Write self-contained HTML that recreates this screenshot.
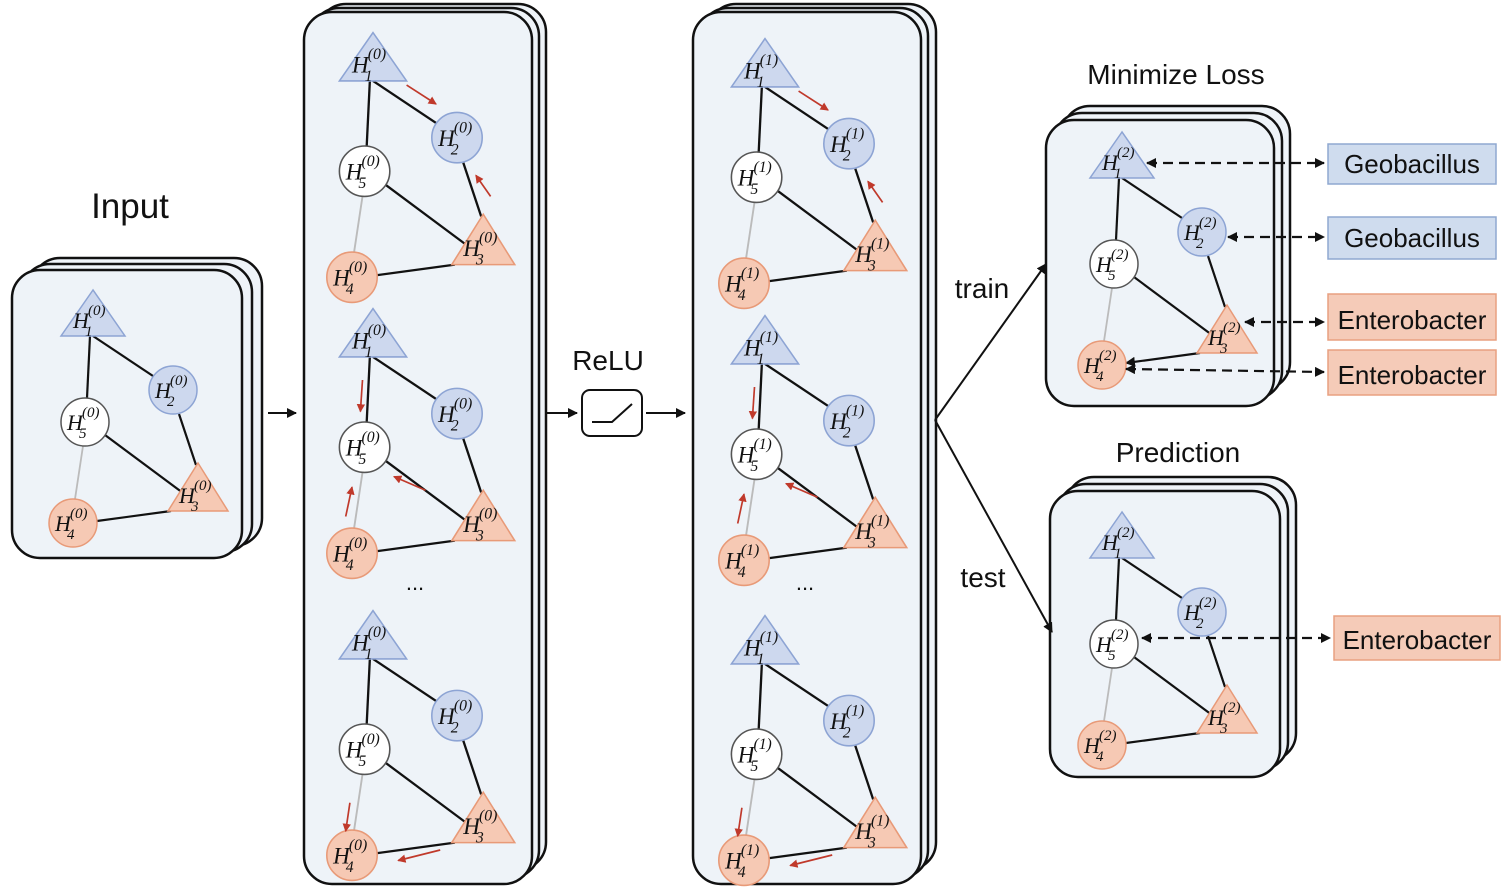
<!DOCTYPE html>
<html><head><meta charset="utf-8"><style>
body{margin:0;background:#fff}
svg{display:block}
.p{fill:#eef3f8;stroke:#111;stroke-width:2.5}
.e{stroke:#111;stroke-width:2.2}
.g{stroke:#bbb;stroke-width:1.8}
.tb{fill:#cdd8ee;stroke:#8da4d4;stroke-width:1.5}
.cb{fill:#cdd8ee;stroke:#8da4d4;stroke-width:1.5}
.cw{fill:#fff;stroke:#555;stroke-width:1.5}
.tr{fill:#f6c9b4;stroke:#e89a78;stroke-width:1.5}
.cr{fill:#f6c9b4;stroke:#e89a78;stroke-width:1.5}
.h{font:italic 22px "Liberation Serif",serif;fill:#111}
.s{font:italic 15px "Liberation Serif",serif;fill:#111}
.t{font-family:"Liberation Sans",sans-serif;fill:#111}
.ra{stroke:#c0392b;stroke-width:1.6;marker-end:url(#rh)}
.ar{stroke:#111;stroke-width:2;marker-end:url(#bh)}
.da{stroke:#111;stroke-width:2.2;stroke-dasharray:10,6;marker-end:url(#bh);marker-start:url(#bs)}
</style></head><body>
<svg width="1512" height="896" viewBox="0 0 1512 896" xmlns="http://www.w3.org/2000/svg">
<defs>
<marker id="rh" markerWidth="8" markerHeight="8" refX="7" refY="4" orient="auto" markerUnits="userSpaceOnUse"><path d="M0,0 L8,4 L0,8z" fill="#c0392b"/></marker>
<marker id="bh" markerWidth="10" markerHeight="10" refX="9" refY="5" orient="auto" markerUnits="userSpaceOnUse"><path d="M0,0 L10,5 L0,10z" fill="#111"/></marker>
<marker id="bs" markerWidth="10" markerHeight="10" refX="1" refY="5" orient="auto" markerUnits="userSpaceOnUse"><path d="M10,0 L0,5 L10,10z" fill="#111"/></marker>
</defs>

<rect class="p" x="32" y="258" width="230" height="288" rx="28"/>
<rect class="p" x="22" y="264" width="230" height="288" rx="28"/>
<rect class="p" x="12" y="270" width="230" height="288" rx="28"/>
<text class="t" x="130" y="218" font-size="35" text-anchor="middle">Input</text>

<rect class="p" x="318" y="4" width="228" height="866" rx="28"/>
<rect class="p" x="311" y="8" width="228" height="870" rx="28"/>
<rect class="p" x="304" y="12" width="228" height="872" rx="28"/>
<rect class="p" x="708" y="4" width="228" height="866" rx="28"/>
<rect class="p" x="700" y="8" width="228" height="870" rx="28"/>
<rect class="p" x="693" y="12" width="228" height="872" rx="28"/>
<rect class="p" x="1062" y="106" width="228" height="284" rx="28"/>
<rect class="p" x="1054" y="113" width="228" height="286" rx="28"/>
<rect class="p" x="1046" y="120" width="228" height="286" rx="28"/>
<rect class="p" x="1066" y="477" width="230" height="284" rx="28"/>
<rect class="p" x="1058" y="484" width="230" height="286" rx="28"/>
<rect class="p" x="1050" y="491" width="230" height="286" rx="28"/>

<text class="t" x="608" y="370" font-size="28" text-anchor="middle">ReLU</text>
<rect x="582" y="390" width="60" height="46" rx="8" fill="#fff" stroke="#111" stroke-width="2"/>
<path d="M592,422 L612,422 L632,404" fill="none" stroke="#111" stroke-width="2"/>
<text class="t" x="1176" y="84" font-size="28" text-anchor="middle">Minimize Loss</text>
<text class="t" x="1178" y="462" font-size="28" text-anchor="middle">Prediction</text>
<text class="t" x="982" y="298" font-size="28" text-anchor="middle">train</text>
<text class="t" x="983" y="587" font-size="28" text-anchor="middle">test</text>
<text class="t" x="415" y="590" font-size="22" text-anchor="middle">...</text>
<text class="t" x="805" y="590" font-size="22" text-anchor="middle">...</text>

<line class="ar" x1="268" y1="413" x2="296" y2="413"/>
<line class="ar" x1="546" y1="413" x2="577" y2="413"/>
<line class="ar" x1="646" y1="413" x2="685" y2="413"/>
<line class="ar" x1="935" y1="420" x2="1046" y2="264"/>
<line class="ar" x1="935" y1="420" x2="1052" y2="632"/>

<g transform="translate(93,318)">
<line class="e" x1="-3" y1="18" x2="-6" y2="80"/><line class="e" x1="0" y1="18" x2="60" y2="58"/><line class="e" x1="86" y1="96" x2="103" y2="147"/><line class="e" x1="12" y1="117" x2="90" y2="175"/><line class="g" x1="-10" y1="128" x2="-18" y2="181"/><line class="e" x1="4" y1="203" x2="78" y2="193"/>
<polygon class="tb" points="0,-28 -32,18 32,18"/><circle class="cb" cx="80" cy="72" r="24"/><circle class="cw" cx="-8" cy="104" r="24"/><polygon class="tr" points="105,145 75,193 135,193"/><circle class="cr" cx="-20" cy="205" r="24"/>
<text class="h" x="-20" y="10">H</text><text class="s" x="-8" y="18">1</text><text class="s" x="-5" y="-3">(0)</text>
<text class="h" x="62" y="80">H</text><text class="s" x="74" y="88">2</text><text class="s" x="77" y="67">(0)</text>
<text class="h" x="-26" y="112">H</text><text class="s" x="-14" y="120">5</text><text class="s" x="-11" y="99">(0)</text>
<text class="h" x="86" y="185">H</text><text class="s" x="98" y="193">3</text><text class="s" x="101" y="172">(0)</text>
<text class="h" x="-38" y="213">H</text><text class="s" x="-26" y="221">4</text><text class="s" x="-23" y="200">(0)</text>
</g>

<g transform="translate(373,62) scale(1.05)">
<line class="e" x1="-3" y1="18" x2="-6" y2="80"/><line class="e" x1="0" y1="18" x2="60" y2="58"/><line class="e" x1="86" y1="96" x2="103" y2="147"/><line class="e" x1="12" y1="117" x2="90" y2="175"/><line class="g" x1="-10" y1="128" x2="-18" y2="181"/><line class="e" x1="4" y1="203" x2="78" y2="193"/>
<polygon class="tb" points="0,-28 -32,18 32,18"/><circle class="cb" cx="80" cy="72" r="24"/><circle class="cw" cx="-8" cy="104" r="24"/><polygon class="tr" points="105,145 75,193 135,193"/><circle class="cr" cx="-20" cy="205" r="24"/>
<text class="h" x="-20" y="10">H</text><text class="s" x="-8" y="18">1</text><text class="s" x="-5" y="-3">(0)</text>
<text class="h" x="62" y="80">H</text><text class="s" x="74" y="88">2</text><text class="s" x="77" y="67">(0)</text>
<text class="h" x="-26" y="112">H</text><text class="s" x="-14" y="120">5</text><text class="s" x="-11" y="99">(0)</text>
<text class="h" x="86" y="185">H</text><text class="s" x="98" y="193">3</text><text class="s" x="101" y="172">(0)</text>
<text class="h" x="-38" y="213">H</text><text class="s" x="-26" y="221">4</text><text class="s" x="-23" y="200">(0)</text>
<line class="ra" x1="32" y1="22" x2="60" y2="40"/><line class="ra" x1="112" y1="128" x2="98" y2="108"/>
</g>

<g transform="translate(373,338) scale(1.05)">
<line class="e" x1="-3" y1="18" x2="-6" y2="80"/><line class="e" x1="0" y1="18" x2="60" y2="58"/><line class="e" x1="86" y1="96" x2="103" y2="147"/><line class="e" x1="12" y1="117" x2="90" y2="175"/><line class="g" x1="-10" y1="128" x2="-18" y2="181"/><line class="e" x1="4" y1="203" x2="78" y2="193"/>
<polygon class="tb" points="0,-28 -32,18 32,18"/><circle class="cb" cx="80" cy="72" r="24"/><circle class="cw" cx="-8" cy="104" r="24"/><polygon class="tr" points="105,145 75,193 135,193"/><circle class="cr" cx="-20" cy="205" r="24"/>
<text class="h" x="-20" y="10">H</text><text class="s" x="-8" y="18">1</text><text class="s" x="-5" y="-3">(0)</text>
<text class="h" x="62" y="80">H</text><text class="s" x="74" y="88">2</text><text class="s" x="77" y="67">(0)</text>
<text class="h" x="-26" y="112">H</text><text class="s" x="-14" y="120">5</text><text class="s" x="-11" y="99">(0)</text>
<text class="h" x="86" y="185">H</text><text class="s" x="98" y="193">3</text><text class="s" x="101" y="172">(0)</text>
<text class="h" x="-38" y="213">H</text><text class="s" x="-26" y="221">4</text><text class="s" x="-23" y="200">(0)</text>
<line class="ra" x1="-10" y1="40" x2="-12" y2="70"/><line class="ra" x1="-26" y1="170" x2="-20" y2="142"/><line class="ra" x1="50" y1="145" x2="20" y2="132"/>
</g>

<g transform="translate(373,640) scale(1.05)">
<line class="e" x1="-3" y1="18" x2="-6" y2="80"/><line class="e" x1="0" y1="18" x2="60" y2="58"/><line class="e" x1="86" y1="96" x2="103" y2="147"/><line class="e" x1="12" y1="117" x2="90" y2="175"/><line class="g" x1="-10" y1="128" x2="-18" y2="181"/><line class="e" x1="4" y1="203" x2="78" y2="193"/>
<polygon class="tb" points="0,-28 -32,18 32,18"/><circle class="cb" cx="80" cy="72" r="24"/><circle class="cw" cx="-8" cy="104" r="24"/><polygon class="tr" points="105,145 75,193 135,193"/><circle class="cr" cx="-20" cy="205" r="24"/>
<text class="h" x="-20" y="10">H</text><text class="s" x="-8" y="18">1</text><text class="s" x="-5" y="-3">(0)</text>
<text class="h" x="62" y="80">H</text><text class="s" x="74" y="88">2</text><text class="s" x="77" y="67">(0)</text>
<text class="h" x="-26" y="112">H</text><text class="s" x="-14" y="120">5</text><text class="s" x="-11" y="99">(0)</text>
<text class="h" x="86" y="185">H</text><text class="s" x="98" y="193">3</text><text class="s" x="101" y="172">(0)</text>
<text class="h" x="-38" y="213">H</text><text class="s" x="-26" y="221">4</text><text class="s" x="-23" y="200">(0)</text>
<line class="ra" x1="-22" y1="155" x2="-26" y2="182"/><line class="ra" x1="64" y1="200" x2="24" y2="210"/>
</g>

<g transform="translate(765,68) scale(1.05)">
<line class="e" x1="-3" y1="18" x2="-6" y2="80"/><line class="e" x1="0" y1="18" x2="60" y2="58"/><line class="e" x1="86" y1="96" x2="103" y2="147"/><line class="e" x1="12" y1="117" x2="90" y2="175"/><line class="g" x1="-10" y1="128" x2="-18" y2="181"/><line class="e" x1="4" y1="203" x2="78" y2="193"/>
<polygon class="tb" points="0,-28 -32,18 32,18"/><circle class="cb" cx="80" cy="72" r="24"/><circle class="cw" cx="-8" cy="104" r="24"/><polygon class="tr" points="105,145 75,193 135,193"/><circle class="cr" cx="-20" cy="205" r="24"/>
<text class="h" x="-20" y="10">H</text><text class="s" x="-8" y="18">1</text><text class="s" x="-5" y="-3">(1)</text>
<text class="h" x="62" y="80">H</text><text class="s" x="74" y="88">2</text><text class="s" x="77" y="67">(1)</text>
<text class="h" x="-26" y="112">H</text><text class="s" x="-14" y="120">5</text><text class="s" x="-11" y="99">(1)</text>
<text class="h" x="86" y="185">H</text><text class="s" x="98" y="193">3</text><text class="s" x="101" y="172">(1)</text>
<text class="h" x="-38" y="213">H</text><text class="s" x="-26" y="221">4</text><text class="s" x="-23" y="200">(1)</text>
<line class="ra" x1="32" y1="22" x2="60" y2="40"/><line class="ra" x1="112" y1="128" x2="98" y2="108"/>
</g>

<g transform="translate(765,345) scale(1.05)">
<line class="e" x1="-3" y1="18" x2="-6" y2="80"/><line class="e" x1="0" y1="18" x2="60" y2="58"/><line class="e" x1="86" y1="96" x2="103" y2="147"/><line class="e" x1="12" y1="117" x2="90" y2="175"/><line class="g" x1="-10" y1="128" x2="-18" y2="181"/><line class="e" x1="4" y1="203" x2="78" y2="193"/>
<polygon class="tb" points="0,-28 -32,18 32,18"/><circle class="cb" cx="80" cy="72" r="24"/><circle class="cw" cx="-8" cy="104" r="24"/><polygon class="tr" points="105,145 75,193 135,193"/><circle class="cr" cx="-20" cy="205" r="24"/>
<text class="h" x="-20" y="10">H</text><text class="s" x="-8" y="18">1</text><text class="s" x="-5" y="-3">(1)</text>
<text class="h" x="62" y="80">H</text><text class="s" x="74" y="88">2</text><text class="s" x="77" y="67">(1)</text>
<text class="h" x="-26" y="112">H</text><text class="s" x="-14" y="120">5</text><text class="s" x="-11" y="99">(1)</text>
<text class="h" x="86" y="185">H</text><text class="s" x="98" y="193">3</text><text class="s" x="101" y="172">(1)</text>
<text class="h" x="-38" y="213">H</text><text class="s" x="-26" y="221">4</text><text class="s" x="-23" y="200">(1)</text>
<line class="ra" x1="-10" y1="40" x2="-12" y2="70"/><line class="ra" x1="-26" y1="170" x2="-20" y2="142"/><line class="ra" x1="50" y1="145" x2="20" y2="132"/>
</g>

<g transform="translate(765,645) scale(1.05)">
<line class="e" x1="-3" y1="18" x2="-6" y2="80"/><line class="e" x1="0" y1="18" x2="60" y2="58"/><line class="e" x1="86" y1="96" x2="103" y2="147"/><line class="e" x1="12" y1="117" x2="90" y2="175"/><line class="g" x1="-10" y1="128" x2="-18" y2="181"/><line class="e" x1="4" y1="203" x2="78" y2="193"/>
<polygon class="tb" points="0,-28 -32,18 32,18"/><circle class="cb" cx="80" cy="72" r="24"/><circle class="cw" cx="-8" cy="104" r="24"/><polygon class="tr" points="105,145 75,193 135,193"/><circle class="cr" cx="-20" cy="205" r="24"/>
<text class="h" x="-20" y="10">H</text><text class="s" x="-8" y="18">1</text><text class="s" x="-5" y="-3">(1)</text>
<text class="h" x="62" y="80">H</text><text class="s" x="74" y="88">2</text><text class="s" x="77" y="67">(1)</text>
<text class="h" x="-26" y="112">H</text><text class="s" x="-14" y="120">5</text><text class="s" x="-11" y="99">(1)</text>
<text class="h" x="86" y="185">H</text><text class="s" x="98" y="193">3</text><text class="s" x="101" y="172">(1)</text>
<text class="h" x="-38" y="213">H</text><text class="s" x="-26" y="221">4</text><text class="s" x="-23" y="200">(1)</text>
<line class="ra" x1="-22" y1="155" x2="-26" y2="182"/><line class="ra" x1="64" y1="200" x2="24" y2="210"/>
</g>

<g transform="translate(1122,160)">
<line class="e" x1="-3" y1="18" x2="-6" y2="80"/><line class="e" x1="0" y1="18" x2="60" y2="58"/><line class="e" x1="86" y1="96" x2="103" y2="147"/><line class="e" x1="12" y1="117" x2="90" y2="175"/><line class="g" x1="-10" y1="128" x2="-18" y2="181"/><line class="e" x1="4" y1="203" x2="78" y2="193" marker-start="url(#bs)"/>
<polygon class="tb" points="0,-28 -32,18 32,18"/><circle class="cb" cx="80" cy="72" r="24"/><circle class="cw" cx="-8" cy="104" r="24"/><polygon class="tr" points="105,145 75,193 135,193"/><circle class="cr" cx="-20" cy="205" r="24"/>
<text class="h" x="-20" y="10">H</text><text class="s" x="-8" y="18">1</text><text class="s" x="-5" y="-3">(2)</text>
<text class="h" x="62" y="80">H</text><text class="s" x="74" y="88">2</text><text class="s" x="77" y="67">(2)</text>
<text class="h" x="-26" y="112">H</text><text class="s" x="-14" y="120">5</text><text class="s" x="-11" y="99">(2)</text>
<text class="h" x="86" y="185">H</text><text class="s" x="98" y="193">3</text><text class="s" x="101" y="172">(2)</text>
<text class="h" x="-38" y="213">H</text><text class="s" x="-26" y="221">4</text><text class="s" x="-23" y="200">(2)</text>
</g>

<g transform="translate(1122,540)">
<line class="e" x1="-3" y1="18" x2="-6" y2="80"/><line class="e" x1="0" y1="18" x2="60" y2="58"/><line class="e" x1="86" y1="96" x2="103" y2="147"/><line class="e" x1="12" y1="117" x2="90" y2="175"/><line class="g" x1="-10" y1="128" x2="-18" y2="181"/><line class="e" x1="4" y1="203" x2="78" y2="193"/>
<polygon class="tb" points="0,-28 -32,18 32,18"/><circle class="cb" cx="80" cy="72" r="24"/><circle class="cw" cx="-8" cy="104" r="24"/><polygon class="tr" points="105,145 75,193 135,193"/><circle class="cr" cx="-20" cy="205" r="24"/>
<text class="h" x="-20" y="10">H</text><text class="s" x="-8" y="18">1</text><text class="s" x="-5" y="-3">(2)</text>
<text class="h" x="62" y="80">H</text><text class="s" x="74" y="88">2</text><text class="s" x="77" y="67">(2)</text>
<text class="h" x="-26" y="112">H</text><text class="s" x="-14" y="120">5</text><text class="s" x="-11" y="99">(2)</text>
<text class="h" x="86" y="185">H</text><text class="s" x="98" y="193">3</text><text class="s" x="101" y="172">(2)</text>
<text class="h" x="-38" y="213">H</text><text class="s" x="-26" y="221">4</text><text class="s" x="-23" y="200">(2)</text>
</g>

<rect x="1328" y="144" width="168" height="40" fill="#cfdcee" stroke="#8fa8d0" stroke-width="1.5"/>
<text class="t" x="1412" y="173" font-size="26" text-anchor="middle">Geobacillus</text>
<rect x="1328" y="217" width="168" height="42" fill="#cfdcee" stroke="#8fa8d0" stroke-width="1.5"/>
<text class="t" x="1412" y="247" font-size="26" text-anchor="middle">Geobacillus</text>
<rect x="1328" y="294" width="168" height="46" fill="#f5cbb8" stroke="#e8a080" stroke-width="1.5"/>
<text class="t" x="1412" y="329" font-size="26" text-anchor="middle">Enterobacter</text>
<rect x="1328" y="350" width="168" height="45" fill="#f5cbb8" stroke="#e8a080" stroke-width="1.5"/>
<text class="t" x="1412" y="384" font-size="26" text-anchor="middle">Enterobacter</text>
<rect x="1334" y="616" width="166" height="44" fill="#f5cbb8" stroke="#e8a080" stroke-width="1.5"/>
<text class="t" x="1417" y="649" font-size="26" text-anchor="middle">Enterobacter</text>

<line class="da" x1="1147" y1="163" x2="1324" y2="163"/>
<line class="da" x1="1228" y1="237" x2="1324" y2="237"/>
<line class="da" x1="1245" y1="322" x2="1324" y2="322"/>
<line class="da" x1="1126" y1="369" x2="1324" y2="372"/>
<line class="da" x1="1142" y1="638" x2="1330" y2="638"/>
</svg>
</body></html>
